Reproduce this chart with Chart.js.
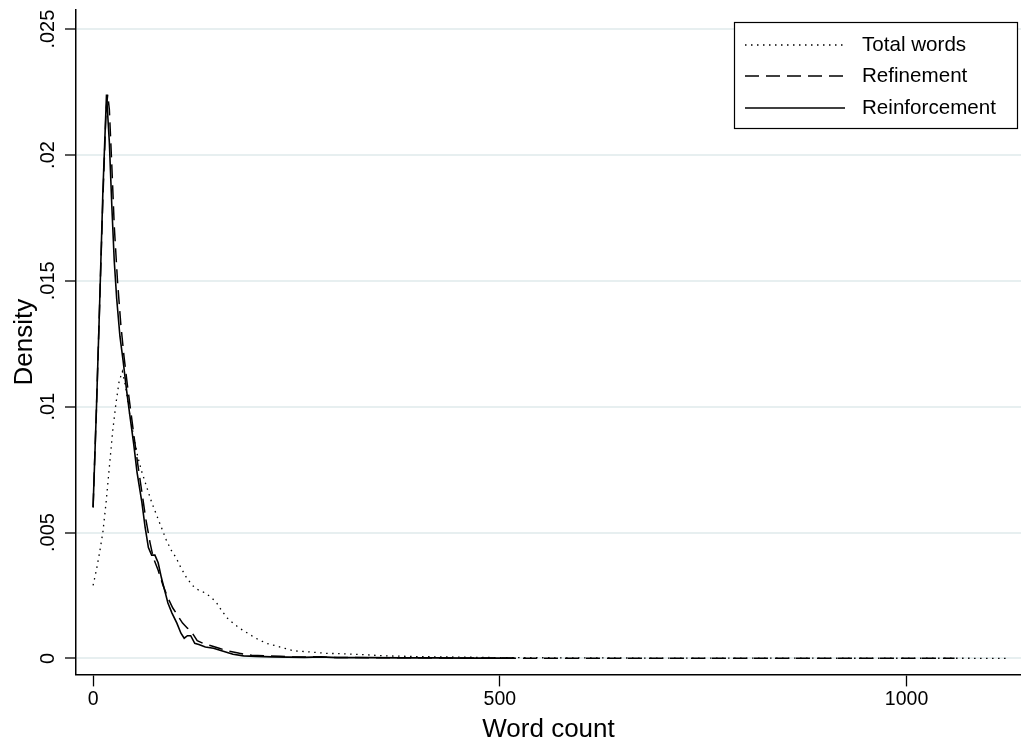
<!DOCTYPE html>
<html>
<head>
<meta charset="utf-8">
<script src="https://cdn.jsdelivr.net/npm/chart.js@4.4.1/dist/chart.umd.min.js"></script>
<style>
  html, body { margin: 0; padding: 0; background: #fff; }
  #wrap { width: 1021px; height: 749px; position: relative; }
</style>
</head>
<body>
<div id="wrap"><canvas id="density"></canvas></div>
<script>
const FONT = '"Liberation Sans", Arial, Helvetica, sans-serif';

// x ticks / y ticks
const xTicks = [0, 500, 1000];
const yTicks = [0, 0.005, 0.01, 0.015, 0.02, 0.025];
const yTickLabels = ['0', '.005', '.01', '.015', '.02', '.025'];

// Total words (dotted)
const totalX = [0, 4, 8, 12, 16, 20, 24, 28, 32, 36, 40, 45, 50, 55, 60, 66, 72, 78, 84, 90, 96, 102, 108, 115, 122, 130, 138, 146, 152, 158, 165, 172, 180, 190, 200, 213, 230, 246, 265, 287, 310, 330, 360, 400, 450, 500, 600, 700, 800, 900, 1000, 1122];
const totalY = [0.0029, 0.0035, 0.0042, 0.0050, 0.0062, 0.0076, 0.0090, 0.0101, 0.0110, 0.0114, 0.0108, 0.0097, 0.0088, 0.0080, 0.0074, 0.0068, 0.0062, 0.0057, 0.0052, 0.0047, 0.0043, 0.0040, 0.0036, 0.0032, 0.0029, 0.0027, 0.0026, 0.0024, 0.0022, 0.0019, 0.0016, 0.0014, 0.0012, 0.0010, 0.0008, 0.0006, 0.00045, 0.0003, 0.00026, 0.0002, 0.00018, 0.00015, 0.0001, 0.00007, 0.00005, 0.00003, 0.00002, 0.00001, 0.00001, 0.000005, 0.000005, 0.000003];

// Refinement (dashed)
const refineX = [0, 4, 8, 12, 16, 18, 20, 23, 26, 30, 34, 38, 42, 46, 50, 55, 60, 65, 70, 74, 80, 86, 92, 98, 104, 110, 116, 120, 124, 128, 135, 145, 155, 165, 180, 195, 210, 230, 250, 270, 290, 320, 360, 400, 450, 500, 560, 620, 700, 800, 900, 1000, 1059];
const refineY = [0.0060, 0.0098, 0.0140, 0.0182, 0.0218, 0.0224, 0.0218, 0.0196, 0.0172, 0.0150, 0.0133, 0.0120, 0.0109, 0.0099, 0.0089, 0.0077, 0.0066, 0.0055, 0.0046, 0.0040, 0.0035, 0.0029, 0.0024, 0.0020, 0.0017, 0.0014, 0.0012, 0.0011, 0.0009, 0.0007, 0.0006, 0.0005, 0.0004, 0.0003, 0.0002, 0.00012, 0.0001, 0.00008, 0.00005, 0.00006, 0.00004, 0.00003, 0.00002, 0.00002, 0.00001, 0.00001, 0.000005, 0.000005, 0.000003, 0.000003, 0.000002, 0.000002, 0.000001];

// Reinforcement (solid)
const reinfX = [0, 4, 8, 12, 16.5, 20, 23, 26, 29, 33, 37, 41, 45, 50, 54, 60, 64, 68, 72, 76, 80, 84, 88, 92, 97, 103, 108, 112, 116, 120, 125, 130, 138, 148, 160, 172, 185, 200, 220, 240, 260, 280, 300, 340, 380, 420, 460, 518];
const reinfY = [0.0060, 0.0098, 0.0140, 0.0185, 0.0224, 0.0205, 0.0180, 0.0158, 0.0143, 0.0128, 0.0118, 0.0107, 0.0097, 0.0085, 0.0074, 0.0062, 0.0052, 0.0044, 0.0041, 0.0041, 0.0038, 0.0032, 0.0027, 0.0022, 0.0018, 0.0014, 0.0010, 0.0008, 0.0009, 0.0009, 0.0006, 0.00055, 0.00045, 0.0004, 0.00028, 0.00016, 0.0001, 0.00008, 0.00006, 0.00005, 0.00004, 0.00006, 0.00003, 0.00003, 0.00002, 0.00002, 0.00001, 0.00001];

const pts = (xs, ys) => xs.map((x, i) => ({ x: x, y: ys[i] }));

// Stata-style boxed legend in the upper right
const boxLegend = {
  id: 'boxLegend',
  afterDraw(chart) {
    const ctx = chart.ctx;
    const right = chart.chartArea.right - 4;
    const left = right - 283, top = 22, bottom = 128;
    const rows = [45, 76, 108];
    ctx.save();
    ctx.fillStyle = '#fff';
    ctx.fillRect(left, top, right - left, bottom - top);
    ctx.strokeStyle = '#000';
    ctx.lineWidth = 1.2;
    ctx.setLineDash([]);
    ctx.strokeRect(left + 0.5, top + 0.5, right - left, bottom - top);
    chart.data.datasets.forEach((ds, i) => {
      const y = rows[i];
      ctx.beginPath();
      ctx.strokeStyle = ds.borderColor;
      ctx.lineWidth = ds.borderWidth;
      ctx.setLineDash(ds.borderDash || []);
      ctx.moveTo(left + 11, y);
      ctx.lineTo(left + 111, y);
      ctx.stroke();
      ctx.setLineDash([]);
      ctx.fillStyle = '#000';
      ctx.font = '20.6px ' + FONT;
      ctx.textBaseline = 'middle';
      ctx.textAlign = 'left';
      ctx.fillText(ds.label, left + 128, y);
    });
    ctx.restore();
  }
};

new Chart(document.getElementById('density'), {
  type: 'line',
  data: {
    datasets: [
      { label: 'Total words', data: pts(totalX, totalY), borderColor: '#000', borderWidth: 1.3, borderDash: [1.5, 4.5] },
      { label: 'Refinement', data: pts(refineX, refineY), borderColor: '#000', borderWidth: 1.5, borderDash: [14, 7] },
      { label: 'Reinforcement', data: pts(reinfX, reinfY), borderColor: '#000', borderWidth: 1.6 },
    ],
  },
  options: {
    responsive: true,
    maintainAspectRatio: false,
    animation: false,
    layout: { padding: { left: 8.8, right: 0, top: 10, bottom: 0 } },
    elements: { point: { radius: 0 }, line: { tension: 0, fill: false } },
    plugins: { legend: { display: false }, tooltip: { enabled: false } },
    scales: {
      x: {
        type: 'linear',
        min: -21,
        max: 1140.7,
        afterBuildTicks: s => { s.ticks = xTicks.map(v => ({ value: v })); },
        grid: { drawOnChartArea: false, drawTicks: true, tickLength: 12, tickColor: '#000', tickWidth: 1.3 },
        border: { color: '#000', width: 1.5 },
        ticks: { color: '#000', font: { family: FONT, size: 19.5 }, padding: 2, maxRotation: 0, callback: v => String(v) },
        title: { display: true, text: 'Word count', color: '#000', font: { family: FONT, size: 26 }, padding: { top: 0, bottom: 4 } },
      },
      y: {
        type: 'linear',
        min: -0.000637,
        max: 0.02576,
        afterBuildTicks: s => { s.ticks = yTicks.map(v => ({ value: v })); },
        grid: { color: '#e7eff0', lineWidth: 2, drawTicks: true, tickLength: 11, tickColor: '#000', tickWidth: 1.3 },
        border: { color: '#000', width: 1.5 },
        ticks: {
          color: '#000', font: { family: FONT, size: 20 }, minRotation: 90, maxRotation: 90,
          crossAlign: 'center', padding: -2.5,
          callback: (v) => yTickLabels[yTicks.findIndex(t => Math.abs(t - v) < 1e-9)],
        },
        title: { display: true, text: 'Density', color: '#000', font: { family: FONT, size: 26 }, padding: { top: 0, bottom: 6 } },
      },
    },
  },
  plugins: [boxLegend],
});
</script>
</body>
</html>
